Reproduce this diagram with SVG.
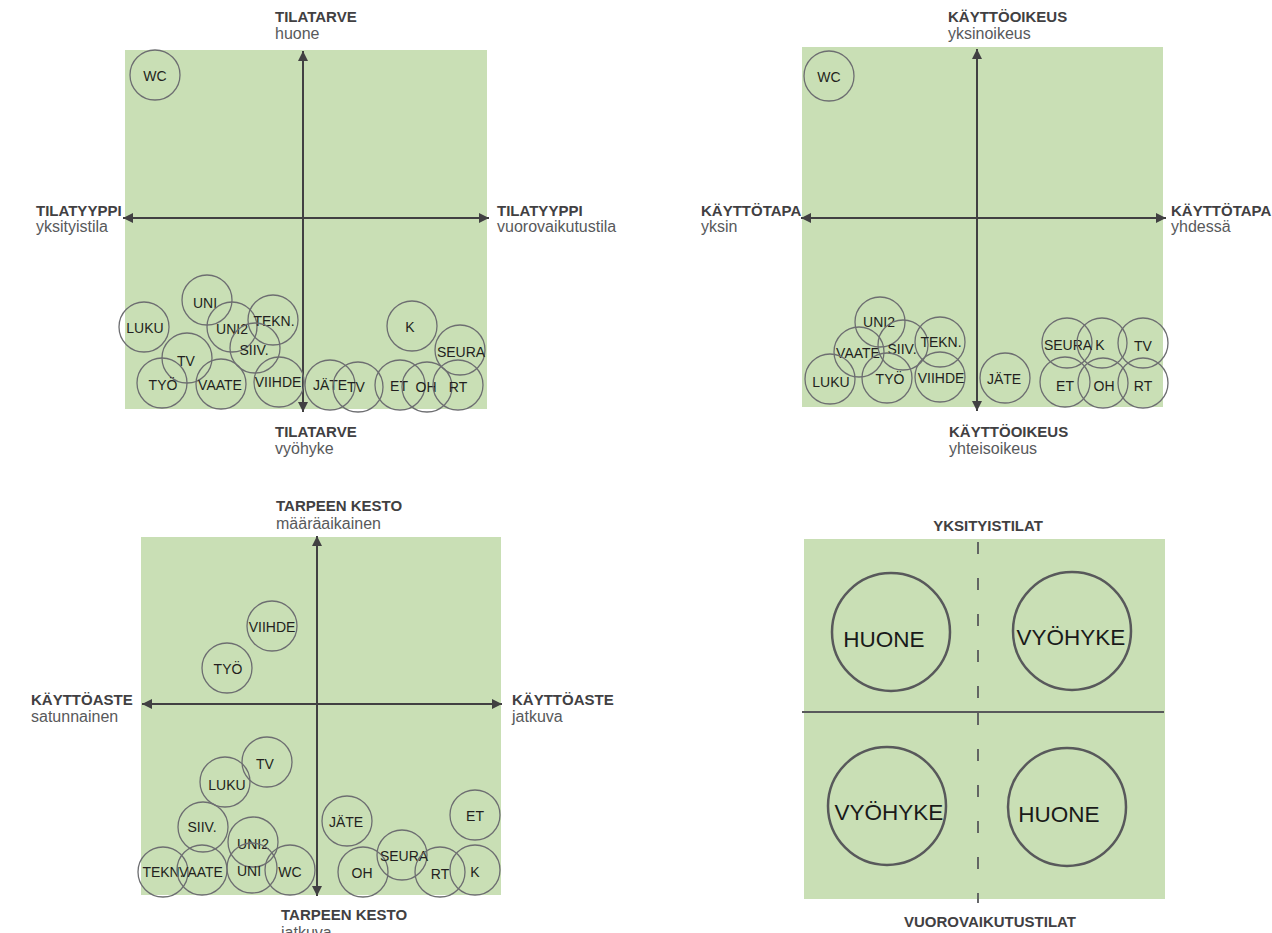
<svg xmlns="http://www.w3.org/2000/svg" width="1272" height="933" viewBox="0 0 1272 933">
  <style>
    .panel { fill: #c9dfb5; }
    .axis { stroke: #414042; stroke-width: 2; fill: none; }
    .split { stroke: #58595b; stroke-width: 1.8; fill: none; }
    .dash { stroke: #58595b; stroke-width: 1.8; fill: none; stroke-dasharray: 12 24; }
    .node circle { fill: none; stroke: #6d6e71; stroke-width: 1.3; }
    .node text { font-family: "Liberation Sans", Arial, sans-serif; font-size: 14px; fill: #231f20; text-anchor: middle; }
    .big circle { fill: none; stroke: #58595b; stroke-width: 2.5; }
    .big text { font-family: "Liberation Sans", Arial, sans-serif; font-size: 22.5px; fill: #1a1a1a; text-anchor: middle; }
    .lb { font-family: "Liberation Sans", Arial, sans-serif; font-weight: bold; font-size: 15px; fill: #414042; }
    .lr { font-family: "Liberation Sans", Arial, sans-serif; font-size: 16px; fill: #58595b; }
    .mid { text-anchor: middle; }
  </style>
  <defs>
    <marker id="tip" viewBox="0 0 10 10" refX="10" refY="5" markerWidth="10" markerHeight="10" markerUnits="userSpaceOnUse" orient="auto-start-reverse">
      <path d="M0,0 L10,5 L0,10 z" fill="#414042"/>
    </marker>
  </defs>

  <!-- background panels -->
  <g id="panels">
    <rect class="panel" x="125" y="50" width="362" height="359"/>
    <rect class="panel" x="802" y="47" width="361" height="360"/>
    <rect class="panel" x="141" y="537" width="360" height="358"/>
    <rect class="panel" x="804" y="539" width="361" height="360"/>
  </g>

  <!-- axes and dividers -->
  <g id="connectors">
    <line class="axis" x1="303" y1="412" x2="303" y2="51" marker-start="url(#tip)" marker-end="url(#tip)"/>
    <line class="axis" x1="123" y1="218" x2="489" y2="218" marker-start="url(#tip)" marker-end="url(#tip)"/>
    <line class="axis" x1="977" y1="411" x2="977" y2="49" marker-start="url(#tip)" marker-end="url(#tip)"/>
    <line class="axis" x1="801" y1="218" x2="1166" y2="218" marker-start="url(#tip)" marker-end="url(#tip)"/>
    <line class="axis" x1="317" y1="896" x2="317" y2="536" marker-start="url(#tip)" marker-end="url(#tip)"/>
    <line class="axis" x1="142" y1="704" x2="502" y2="704" marker-start="url(#tip)" marker-end="url(#tip)"/>
    <line class="split" x1="802" y1="712" x2="1164" y2="712"/>
    <line class="dash" x1="978" y1="542" x2="978" y2="711"/>
    <line class="dash" x1="978" y1="713" x2="978" y2="903"/>
  </g>

  <!-- axis labels -->
  <g id="labels">
    <text class="lb" x="275" y="22">TILATARVE</text>
    <text class="lr" x="275" y="39">huone</text>
    <text class="lb" x="36" y="216">TILATYYPPI</text>
    <text class="lr" x="36" y="232">yksityistila</text>
    <text class="lb" x="497" y="216">TILATYYPPI</text>
    <text class="lr" x="497" y="232">vuorovaikutustila</text>
    <text class="lb" x="275" y="437">TILATARVE</text>
    <text class="lr" x="275" y="454">vyöhyke</text>

    <text class="lb" x="948" y="22">KÄYTTÖOIKEUS</text>
    <text class="lr" x="948" y="39">yksinoikeus</text>
    <text class="lb" x="701" y="216">KÄYTTÖTAPA</text>
    <text class="lr" x="701" y="232">yksin</text>
    <text class="lb" x="1171" y="216">KÄYTTÖTAPA</text>
    <text class="lr" x="1171" y="232">yhdessä</text>
    <text class="lb" x="949" y="437">KÄYTTÖOIKEUS</text>
    <text class="lr" x="949" y="454">yhteisoikeus</text>

    <text class="lb" x="276" y="511">TARPEEN KESTO</text>
    <text class="lr" x="276" y="529">määräaikainen</text>
    <text class="lb" x="31" y="705">KÄYTTÖASTE</text>
    <text class="lr" x="31" y="722">satunnainen</text>
    <text class="lb" x="512" y="705">KÄYTTÖASTE</text>
    <text class="lr" x="512" y="722">jatkuva</text>
    <text class="lb" x="281" y="920">TARPEEN KESTO</text>
    <text class="lr" x="281" y="938">jatkuva</text>

    <text class="lb mid" x="988" y="531">YKSITYISTILAT</text>
    <text class="lb mid" x="990" y="927">VUOROVAIKUTUSTILAT</text>
  </g>

  <!-- chart 1: TILATARVE / TILATYYPPI -->
  <g id="c1-wc" class="node"><circle cx="155" cy="75" r="25"/><text x="155" y="81">WC</text></g>
  <g id="c1-uni" class="node"><circle cx="207" cy="300" r="25"/><text x="205" y="308">UNI</text></g>
  <g id="c1-luku" class="node"><circle cx="144" cy="327" r="25"/><text x="145" y="333">LUKU</text></g>
  <g id="c1-uni2" class="node"><circle cx="232" cy="327" r="25"/><text x="232" y="334">UNI2</text></g>
  <g id="c1-tekn" class="node"><circle cx="273" cy="320" r="25"/><text x="274" y="326">TEKN.</text></g>
  <g id="c1-siiv" class="node"><circle cx="255" cy="348" r="25"/><text x="254" y="355">SIIV.</text></g>
  <g id="c1-tv" class="node"><circle cx="187" cy="358" r="25"/><text x="186" y="366">TV</text></g>
  <g id="c1-tyo" class="node"><circle cx="162" cy="383" r="25"/><text x="163" y="390">TYÖ</text></g>
  <g id="c1-vaate" class="node"><circle cx="221" cy="384" r="25"/><text x="220" y="390">VAATE</text></g>
  <g id="c1-viihde" class="node"><circle cx="279" cy="382" r="25"/><text x="278" y="387">VIIHDE</text></g>
  <g id="c1-jate" class="node"><circle cx="330" cy="385" r="25"/><text x="330" y="390">JÄTE</text></g>
  <g id="c1-tv2" class="node"><circle cx="358" cy="387" r="25"/><text x="356" y="392">TV</text></g>
  <g id="c1-et" class="node"><circle cx="400" cy="385" r="25"/><text x="399" y="391">ET</text></g>
  <g id="c1-oh" class="node"><circle cx="427" cy="387" r="25"/><text x="426" y="392">OH</text></g>
  <g id="c1-rt" class="node"><circle cx="458" cy="385" r="25"/><text x="458" y="392">RT</text></g>
  <g id="c1-k" class="node"><circle cx="412" cy="326" r="25"/><text x="410" y="332">K</text></g>
  <g id="c1-seura" class="node"><circle cx="460" cy="350" r="25"/><text x="461" y="357">SEURA</text></g>

  <!-- chart 2: KÄYTTÖOIKEUS / KÄYTTÖTAPA -->
  <g id="c2-wc" class="node"><circle cx="829" cy="76" r="25"/><text x="829" y="82">WC</text></g>
  <g id="c2-uni2" class="node"><circle cx="880" cy="322" r="25"/><text x="879" y="327">UNI2</text></g>
  <g id="c2-vaate" class="node"><circle cx="859" cy="352" r="25"/><text x="858" y="358">VAATE</text></g>
  <g id="c2-siiv" class="node"><circle cx="903" cy="345" r="25"/><text x="902" y="354">SIIV.</text></g>
  <g id="c2-tekn" class="node"><circle cx="940" cy="342" r="25"/><text x="941" y="347">TEKN.</text></g>
  <g id="c2-luku" class="node"><circle cx="830" cy="379" r="25"/><text x="831" y="387">LUKU</text></g>
  <g id="c2-tyo" class="node"><circle cx="887" cy="378" r="25"/><text x="890" y="384">TYÖ</text></g>
  <g id="c2-viihde" class="node"><circle cx="940" cy="377" r="25"/><text x="941" y="383">VIIHDE</text></g>
  <g id="c2-jate" class="node"><circle cx="1005" cy="378" r="25"/><text x="1004" y="384">JÄTE</text></g>
  <g id="c2-seura" class="node"><circle cx="1067" cy="343" r="25"/><text x="1068" y="350">SEURA</text></g>
  <g id="c2-k" class="node"><circle cx="1102" cy="343" r="25"/><text x="1100" y="350">K</text></g>
  <g id="c2-tv" class="node"><circle cx="1143" cy="343" r="25"/><text x="1143" y="351">TV</text></g>
  <g id="c2-et" class="node"><circle cx="1065" cy="382" r="25"/><text x="1065" y="391">ET</text></g>
  <g id="c2-oh" class="node"><circle cx="1103" cy="383" r="25"/><text x="1104" y="391">OH</text></g>
  <g id="c2-rt" class="node"><circle cx="1143" cy="383" r="25"/><text x="1143" y="391">RT</text></g>

  <!-- chart 3: TARPEEN KESTO / KÄYTTÖASTE -->
  <g id="c3-viihde" class="node"><circle cx="272" cy="626" r="25"/><text x="272" y="632">VIIHDE</text></g>
  <g id="c3-tyo" class="node"><circle cx="227" cy="668" r="25"/><text x="228" y="674">TYÖ</text></g>
  <g id="c3-tv" class="node"><circle cx="267" cy="762" r="25"/><text x="265" y="769">TV</text></g>
  <g id="c3-luku" class="node"><circle cx="225" cy="782" r="25"/><text x="227" y="790">LUKU</text></g>
  <g id="c3-siiv" class="node"><circle cx="203" cy="827" r="25"/><text x="202" y="832">SIIV.</text></g>
  <g id="c3-uni2" class="node"><circle cx="253" cy="842" r="25"/><text x="253" y="849">UNI2</text></g>
  <g id="c3-tekn" class="node"><circle cx="163" cy="872" r="25"/><text x="163" y="877">TEKN.</text></g>
  <g id="c3-vaate" class="node"><circle cx="202" cy="870" r="25"/><text x="201" y="877">VAATE</text></g>
  <g id="c3-uni" class="node"><circle cx="252" cy="868" r="25"/><text x="249" y="876">UNI</text></g>
  <g id="c3-wc" class="node"><circle cx="290" cy="870" r="25"/><text x="290" y="877">WC</text></g>
  <g id="c3-jate" class="node"><circle cx="347" cy="821" r="25"/><text x="346" y="827">JÄTE</text></g>
  <g id="c3-et" class="node"><circle cx="475" cy="815" r="25"/><text x="475" y="821">ET</text></g>
  <g id="c3-oh" class="node"><circle cx="363" cy="872" r="25"/><text x="362" y="878">OH</text></g>
  <g id="c3-seura" class="node"><circle cx="402" cy="855" r="25"/><text x="404" y="861">SEURA</text></g>
  <g id="c3-rt" class="node"><circle cx="440" cy="872" r="25"/><text x="440" y="879">RT</text></g>
  <g id="c3-k" class="node"><circle cx="475" cy="870" r="25"/><text x="475" y="877">K</text></g>

  <!-- chart 4: room / zone matrix -->
  <g id="c4-huone-a" class="big"><circle cx="891" cy="632" r="59"/><text x="884" y="647">HUONE</text></g>
  <g id="c4-vyohyke-a" class="big"><circle cx="1072" cy="631" r="59"/><text x="1071" y="645">VYÖHYKE</text></g>
  <g id="c4-vyohyke-b" class="big"><circle cx="887" cy="806" r="59"/><text x="889" y="820">VYÖHYKE</text></g>
  <g id="c4-huone-b" class="big"><circle cx="1067" cy="807" r="59"/><text x="1059" y="822">HUONE</text></g>
</svg>
